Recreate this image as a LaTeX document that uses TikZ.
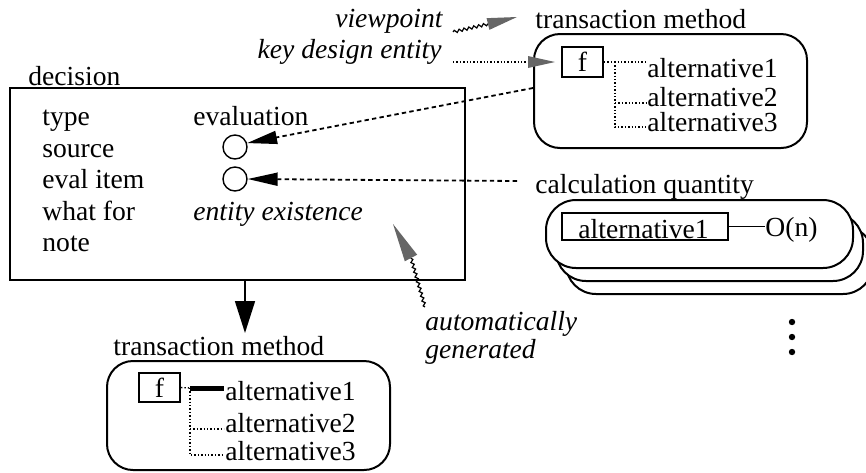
\documentclass[tikz,border=0pt]{standalone}
\usepackage{fontspec}
\setmainfont{Liberation Serif}
\usetikzlibrary{arrows.meta,calc,decorations.pathmorphing}

\newcommand\sz{\fontsize{13.8}{16}\selectfont}
% grey-shaded arrow head: tip, middle of base, half width
\newcommand\hatchhead[3]{\fill[hatch] (#1) -- ($(#2)!#3!90:(#1)$) -- ($(#2)!#3!-90:(#1)$) -- cycle;}

\begin{document}
\begin{tikzpicture}[x=0.5pt,y=-0.5pt,
  font=\sz,
  it/.style={font=\sz\itshape},
  frame/.style={draw,line width=1pt,inner sep=0pt},
  rbox/.style={frame,rounded corners=13pt},
  lbl/.style={inner sep=0pt,anchor=base west},
  lblr/.style={inner sep=0pt,anchor=base east},
  tree/.style={densely dotted,line width=0.7pt},
  dashlink/.style={dash pattern=on 2.2pt off 1.6pt,line width=0.9pt,-{Triangle[length=15pt,width=6.5pt]}},
  wavy/.style={decorate,decoration={snake,amplitude=0.7pt,segment length=2.5pt},line width=0.6pt},
  hatch/.style={fill=black!60},
  slot/.style={circle,draw,line width=0.7pt,minimum size=12pt,inner sep=0pt},
]
\useasboundingbox (0,0) rectangle (866,472);

% annotations at the top
\node[lblr,it] (vp) at (443,27) {viewpoint};
\node[lblr,it] (kde) at (442,58) {key design entity};
\node[lbl] (tmt) at (535,28) {transaction method};

% transaction method (top)
\node[rbox,minimum width=136.5pt,minimum height=57pt] (tm1) at (670.5,91) {};
\node[frame,minimum width=20.5pt,minimum height=15pt] (f1) at (582.5,62) {f};
\node[lbl] (a11) at (647,77) {alternative1};
\node[lbl] (a12) at (647,106) {alternative2};
\node[lbl] (a13) at (647,131) {alternative3};
\coordinate (j1) at (615,62);
\draw[tree] (f1.east) -- ($(a11.base west)+(-1,-15)$);
\draw[tree] (j1) |- ($(a13.base west)+(-1,-4)$);
\draw[tree] (j1 |- 0,103) -- ($(a12.base west)+(-1,-3)$);

% viewpoint / key design entity pointers
\coordinate (vps) at (453,32);
\coordinate (vpb) at (488,24);
\draw[wavy] (vps) -- (vpb);
\hatchhead{517,17}{vpb}{3pt}
\coordinate (kds) at (453,62);
\coordinate (kdb) at (528,62);
\draw[tree] (kds) -- (kdb);
\hatchhead{$(f1.west)+(-6,0)$}{kdb}{3pt}

% decision record
\node[lbl] (dl) at (28,85) {decision};
\node[frame,minimum width=227.5pt,minimum height=96pt] (dec) at (237.5,184) {};
\node[lbl] (r1) at (42,125) {type};
\node[lbl] (r2) at (42,157) {source};
\node[lbl] (r3) at (42,188) {eval item};
\node[lbl] (r4) at (42,220) {what for};
\node[lbl] (r5) at (42,251) {note};
\node[lbl] (v1) at (193,125) {evaluation};
\node[lbl,it] (v4) at (193,220) {entity existence};
\node[slot] (src) at (235,147) {};
\node[slot] (evi) at (235,179) {};

\draw[dashlink] ($(tm1.west)+(0,-3)$) -- (src.18);
\coordinate (cqs) at (517,181);
\draw[dashlink] (cqs) -- (evi.east);

% calculation quantity stack
\node[lbl] (cqt) at (535,193) {calculation quantity};
\node[rbox,fill=white,rounded corners=15pt,minimum width=153.5pt,minimum height=34pt] (cq3) at (719.5,260) {};
\node[rbox,fill=white,rounded corners=15pt,minimum width=153.5pt,minimum height=34pt] (cq2) at (709.5,247) {};
\node[rbox,fill=white,rounded corners=15pt,minimum width=153.5pt,minimum height=34pt] (cq1) at (699.5,234) {};
\node[frame,minimum width=83pt,minimum height=13.5pt] (ib) at (645,226.5) {};
\node[lbl] (ibt) at (578,238) {alternative1};
\node[lbl] (on) at (765,236) {O(n)};
\draw[line width=0.6pt] (ib.east) -- (ib.east -| on.west);

% automatically generated
\node[lbl,it] (ag1) at (425,330) {automatically};
\node[lbl,it] (ag2) at (425,358) {generated};
\coordinate (ags) at (425,307);
\coordinate (agb) at (411,258);
\draw[wavy] (ags) -- (agb);
\hatchhead{393,224}{agb}{3.5pt}

% continuation dots
\fill (792,322) circle[radius=1.6pt];
\fill (792,337) circle[radius=1.6pt];
\fill (792,352) circle[radius=1.6pt];

% transaction method (bottom)
\node[lbl] (tmb) at (113,355) {transaction method};
\node[rbox,minimum width=141.5pt,minimum height=54.5pt] (tm2) at (248.5,415.5) {};
\node[frame,minimum width=20.5pt,minimum height=14.5pt] (f2) at (159.5,387.5) {f};
\node[lbl] (b1) at (225,400) {alternative1};
\node[lbl] (b2) at (225,432) {alternative2};
\node[lbl] (b3) at (225,460) {alternative3};
\coordinate (j2) at (190,388);
\draw[tree] (f2.east) -- (j2);
\draw[line width=2.5pt] (j2) -- ($(b1.base west)+(-1,-12)$);
\draw[tree] (j2) |- ($(b3.base west)+(-1,-5)$);
\draw[tree] (j2 |- 0,429) -- ($(b2.base west)+(-1,-3)$);

% decision feeds the transaction method below
\coordinate (dout) at ($(dec.south)+(7.5,0)$);
\draw[line width=0.8pt,-{Triangle[length=16pt,width=10pt]}] (dout) -- ++(0,52);
\end{tikzpicture}
\end{document}
